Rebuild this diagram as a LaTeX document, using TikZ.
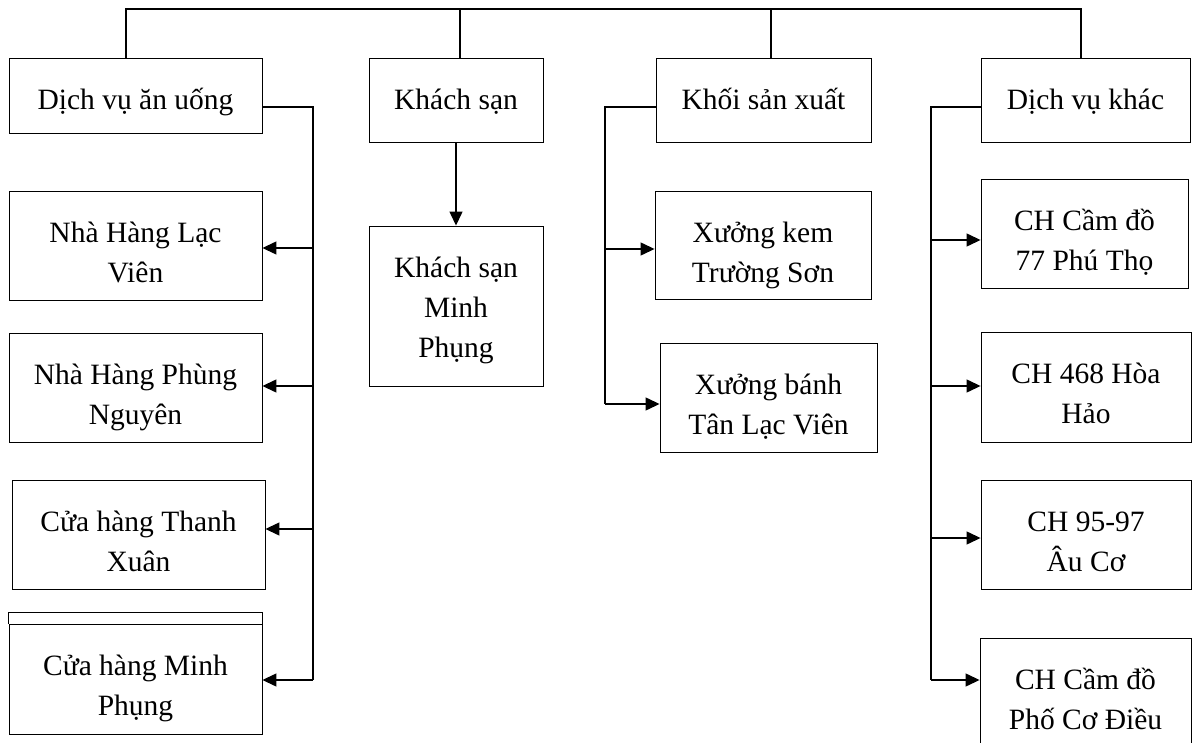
\documentclass[tikz,border=0pt]{standalone}
\usepackage{fontspec}
\setmainfont{Liberation Serif}
\usetikzlibrary{arrows.meta}
\newcommand\boxtxt[2]{\node[lbl, anchor=north] (#1t) at ([yshift=-24pt]#1.north) {\begin{tabular}{@{}c@{}}#2\end{tabular}};}
\begin{document}
\begin{tikzpicture}[x=1pt,y=-1pt,
  box/.style={draw, line width=0.9pt, inner sep=0pt},
  lbl/.style={inner sep=0pt, font=\fontsize{29.5}{40}\selectfont},
  conn/.style={line width=1.3pt},
  arr/.style={conn, -{Triangle[length=14pt,width=13pt]}}]
\path[use as bounding box, clip] (0,0) rectangle (1192,743);
% level 1
\node[box, minimum width=253pt, minimum height=75pt] (dv) at (135.5,95.5) {};
\node[box, minimum width=174pt, minimum height=84pt] (ks) at (456,100) {};
\node[box, minimum width=215pt, minimum height=84pt] (kx) at (763.5,100) {};
\node[box, minimum width=209pt, minimum height=84pt] (dvk) at (1085.5,100) {};
\boxtxt{dv}{Dịch vụ ăn uống}
\boxtxt{ks}{Khách sạn}
\boxtxt{kx}{Khối sản xuất}
\boxtxt{dvk}{Dịch vụ khác}
% left children
\node[box, minimum width=253pt, minimum height=109pt] (nlv) at (135.5,245.5) {};
\node[box, minimum width=253pt, minimum height=109pt] (npn) at (135.5,387.5) {};
\node[box, minimum width=253pt, minimum height=109pt] (tx) at (138.5,534.5) {};
\node[box, minimum width=253pt, minimum height=110pt] (cmp) at (135.5,679) {};
\draw[line width=0.9pt] (cmp.north west) -- ++(0,-11) -| (cmp.north east);
\boxtxt{nlv}{Nhà Hàng Lạc\\Viên}
\boxtxt{npn}{Nhà Hàng Phùng\\Nguyên}
\boxtxt{tx}{Cửa hàng Thanh\\Xuân}
\boxtxt{cmp}{Cửa hàng Minh\\Phụng}
% hotel child
\node[box, minimum width=174pt, minimum height=160pt] (ksmp) at (456,306) {};
\boxtxt{ksmp}{Khách sạn\\Minh\\Phụng}
% production children
\node[box, minimum width=216pt, minimum height=108pt] (xk) at (763,245) {};
\node[box, minimum width=217pt, minimum height=109pt] (xb) at (768.5,397.5) {};
\boxtxt{xk}{Xưởng kem\\Trường Sơn}
\boxtxt{xb}{Xưởng bánh\\Tân Lạc Viên}
% other services children
\node[box, minimum width=207pt, minimum height=109pt] (ch77) at (1084.5,233.5) {};
\node[box, minimum width=210pt, minimum height=110pt] (ch468) at (1086,387) {};
\node[box, minimum width=210pt, minimum height=109pt] (ch95) at (1086,534.5) {};
\node[box, minimum width=211pt, minimum height=122pt] (pcd) at (1085.5,699) {};
\boxtxt{ch77}{CH Cầm đồ\\77 Phú Thọ}
\boxtxt{ch468}{CH 468 Hòa\\Hảo}
\boxtxt{ch95}{CH 95-97\\Âu Cơ}
\boxtxt{pcd}{CH Cầm đồ\\Phố Cơ Điều}
% top bus
\coordinate (b1) at (126,9);
\coordinate (b2) at (460,9);
\coordinate (b3) at (771,9);
\coordinate (b4) at (1081,9);
\draw[conn] (b1 |- dv.north) -- (b1) -- (b4) -- (b4 |- dvk.north);
\draw[conn] (b2) -- (b2 |- ks.north);
\draw[conn] (b3) -- (b3 |- kx.north);
% hotel arrow
\draw[arr] (ks.south) -- (ksmp.north);
% left spine
\coordinate (s1) at (313,107);
\coordinate (s1e) at (313,680);
\draw[conn] (s1 -| dv.east) -- (s1) -- (s1e);
\draw[arr] (313,248) -- (nlv.east |- 0,248);
\draw[arr] (313,386) -- (npn.east |- 0,386);
\draw[arr] (313,529) -- (tx.east |- 0,529);
\draw[arr] (s1e) -- (cmp.east |- s1e);
% production spine
\coordinate (s2) at (605,107);
\coordinate (s2e) at (605,404);
\draw[conn] (s2 -| kx.west) -- (s2) -- (s2e);
\draw[arr] (605,249) -- (xk.west |- 0,249);
\draw[arr] (s2e) -- (xb.west |- s2e);
% other services spine
\coordinate (s3) at (931,107);
\coordinate (s3e) at (931,680);
\draw[conn] (s3 -| dvk.west) -- (s3) -- (s3e);
\draw[arr] (931,240) -- (ch77.west |- 0,240);
\draw[arr] (931,386) -- (ch468.west |- 0,386);
\draw[arr] (931,538) -- (ch95.west |- 0,538);
\draw[arr] (s3e) -- (pcd.west |- s3e);
\end{tikzpicture}
\end{document}
